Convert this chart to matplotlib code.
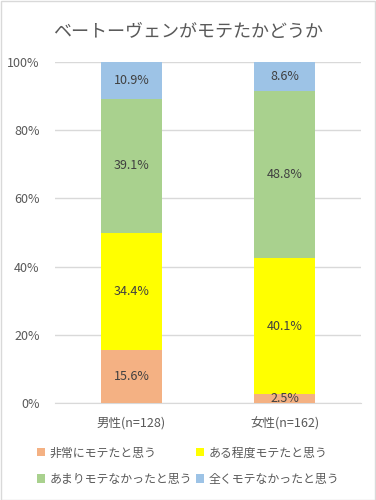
import matplotlib
matplotlib.use("Agg")
import matplotlib.pyplot as plt
from matplotlib.patches import Patch, Rectangle
from matplotlib.ticker import FuncFormatter

plt.rcParams['font.family'] = ['Noto Sans CJK JP', 'DejaVu Sans']

title = "ベートーヴェンがモテたかどうか"
categories = ["男性(n=128)", "女性(n=162)"]
series_names = ["非常にモテたと思う", "ある程度モテたと思う", "あまりモテなかったと思う", "全くモテなかったと思う"]
very = [15.6, 2.5]
some = [34.4, 40.1]
notmuch = [39.1, 48.8]
never = [10.9, 8.6]
colors = ["#F4B183", "#FFFF00", "#A9D18E", "#9DC3E6"]
yticks = [0, 20, 40, 60, 80, 100]

fig = plt.figure(figsize=(3.76, 5.0), dpi=100)
fig.patches.append(Rectangle((0.5/376, 0.5/500), 1 - 1.5/376, 1 - 1.5/500, transform=fig.transFigure,
                             fill=False, edgecolor="#d9d9d9", linewidth=1))
ax = fig.add_axes([55/376, 97/500, 306/376, 341/500])

data = [very, some, notmuch, never]
x = list(range(len(categories)))
bottom = [0.0] * len(categories)
for vals, col in zip(data, colors):
    ax.bar(x, vals, bottom=bottom, width=0.4, color=col, zorder=3)
    for i, v in enumerate(vals):
        ax.text(x[i], bottom[i] + v / 2, f"{v:.1f}%", ha="center", va="center",
                fontsize=9, color="#404040", zorder=4)
    bottom = [b + v for b, v in zip(bottom, vals)]

ax.set_xlim(-0.5, 1.5)
ax.set_ylim(0, 100)
ax.set_yticks(yticks)
ax.yaxis.set_major_formatter(FuncFormatter(lambda v, p: f"{int(v)}%"))
ax.set_xticks(x)
ax.set_xticklabels(categories)
ax.tick_params(axis="both", length=0, colors="#595959", labelsize=9)
ax.tick_params(axis="y", pad=11)
ax.tick_params(axis="x", pad=10)
ax.grid(axis="y", color="#d9d9d9", linewidth=1, zorder=0)
for s in ["top", "right", "left"]:
    ax.spines[s].set_visible(False)
ax.spines["bottom"].set_color("#d9d9d9")

fig.text(0.5, 1 - 32/500, title, ha="center", va="center", fontsize=13, color="#595959")

handles = [Patch(facecolor=c, edgecolor="none") for c in colors]
order = [0, 2, 1, 3]
fig.legend([handles[i] for i in order], [series_names[i] for i in order], ncol=2, loc="center",
           bbox_to_anchor=(0.5, 1 - 466/500),
           frameon=False, fontsize=8.6, handlelength=0.7, handleheight=0.7, handletextpad=0.4,
           columnspacing=0.3, labelcolor="#595959", labelspacing=1.1)

fig.savefig("out.png", dpi=100)
